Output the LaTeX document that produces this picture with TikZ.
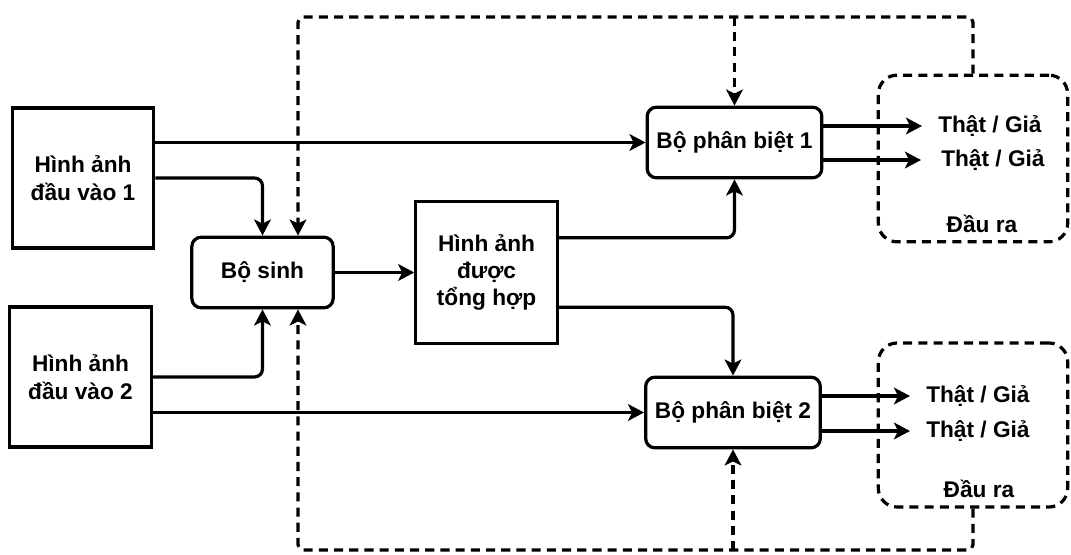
\documentclass[tikz,border=0pt]{standalone}
\usepackage{fontspec}
\setmainfont{Liberation Sans}
\usetikzlibrary{arrows.meta}

\tikzset{
    box/.style={draw, line width=2.4pt, align=center, inner sep=2pt,
        font=\bfseries\fontsize{17}{20.5}\selectfont},
    rbox/.style={box, rounded corners=7pt},
    outbox/.style={draw, line width=2.4pt, dash pattern=on 6.8pt off 4.6pt,
        rounded corners=14pt},
    lbl/.style={font=\bfseries\fontsize{17}{20.5}\selectfont, inner xsep=12pt},
    arr/.style={line width=2.4pt, rounded corners=6pt,
        -{Stealth[length=12pt,width=12.5pt,inset=3pt]}},
    fb/.style={arr, dash pattern=on 6.8pt off 4.6pt, rounded corners=4pt}
}

\begin{document}
\begin{tikzpicture}[x=0.75pt, y=-0.75pt]
    \useasboundingbox (0,0) rectangle (1071,554);

    % inputs and generator
    \node[box, minimum width=106pt, minimum height=105pt] (in1) at (83,178) {Hình ảnh\\đầu vào 1};
    \node[box, minimum width=106pt, minimum height=105pt] (in2) at (80.5,377) {Hình ảnh\\đầu vào 2};
    \node[rbox, minimum width=106pt, minimum height=53pt] (gen) at (262.5,272.5) {Bộ sinh};
    \node[box, minimum width=106pt, minimum height=106pt] (syn) at (486.5,272.5) {Hình ảnh\\được\\tổng hợp};

    % discriminators
    \node[rbox, minimum width=131pt, minimum height=53pt] (d1) at (734.5,142.5) {Bộ phân biệt 1};
    \node[rbox, minimum width=131pt, minimum height=53pt] (d2) at (733,412.5) {Bộ phân biệt 2};

    % outputs
    \node[outbox, minimum width=142pt, minimum height=125pt] (out1) at (973,158.5) {};
    \node[outbox, minimum width=142pt, minimum height=123pt] (out2) at (973,425) {};
    \node[lbl, anchor=west] (t11) at (922,126) {Thật / Giả};
    \node[lbl, anchor=west] (t12) at (925,160) {Thật / Giả};
    \node[lbl] (r1) at (982,224) {Đầu ra};
    \node[lbl, anchor=west] (t21) at (910,396) {Thật / Giả};
    \node[lbl, anchor=west] (t22) at (910,431) {Thật / Giả};
    \node[lbl] (r2) at (979,489) {Đầu ra};

    \coordinate (topr) at (973,17);
    \coordinate (topl) at (298,17);
    \coordinate (botr) at (973,550);
    \coordinate (botl) at (298,550);

    % forward paths
    \draw[arr] (in1.east |- d1.west) -- (d1.west);
    \draw[arr] (in1.east) -| (gen.north);
    \draw[arr] (in2.east) -| (gen.south);
    \draw[arr] (in2.east |- d2.west) -- (d2.west);
    \draw[arr] (gen.east) -- (gen.east -| syn.west);
    \draw[arr] ([yshift=26pt]syn.east) -| (d1.south);
    \draw[arr] ([yshift=-26pt]syn.east) -| (d2.north);
    \draw[arr] (d1.east |- t11.west) -- (t11.west);
    \draw[arr] (d1.east |- t12.west) -- ([xshift=-3pt]t12.west);
    \draw[arr] (d2.east |- t21.west) -- (t21.west);
    \draw[arr] (d2.east |- t22.west) -- (t22.west);

    % feedback from the outputs
    \draw[fb] (out1.north) -- (topr) -- (topl) -- (topl |- gen.north);
    \draw[fb] (d1.north |- topl) -- (d1.north);
    \draw[fb] (out2.south) -- (botr) -- (botl) -- (botl |- gen.south);
    \draw[fb] (d2.south |- botl) -- (d2.south);
\end{tikzpicture}
\end{document}
